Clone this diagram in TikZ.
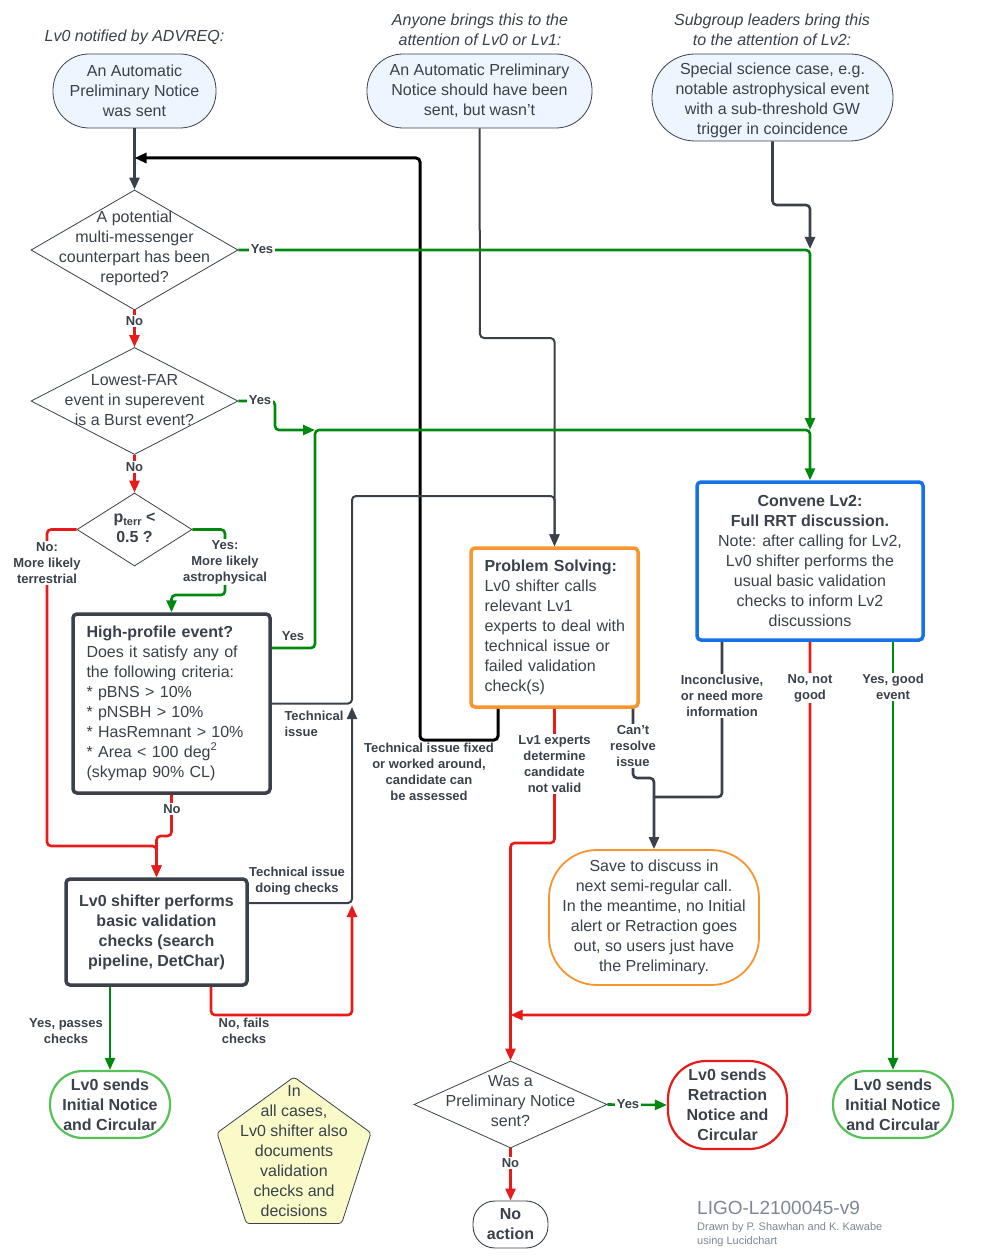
\documentclass[tikz,border=0pt]{standalone}
\usepackage{fontspec}
\setmainfont{Liberation Sans}
\usetikzlibrary{arrows.meta,shapes.geometric,calc}
\definecolor{tg}{HTML}{3A414A}
\definecolor{lblue}{HTML}{EDF5FF}
\definecolor{lgreen}{HTML}{00890F}
\definecolor{bgreen}{HTML}{55C157}
\definecolor{lred}{HTML}{E81B1B}
\definecolor{orng}{HTML}{F8952F}
\definecolor{blu}{HTML}{1572E8}
\definecolor{yel}{HTML}{FAFAC9}
\definecolor{ligo}{HTML}{7D8894}
\begin{document}
\begin{tikzpicture}[x=1pt,y=-1pt,
  txt/.style={font=\fontsize{16}{20}\selectfont, text=tg, align=center},
  btxt/.style={font=\bfseries\fontsize{16}{20}\selectfont, text=tg, align=center},
  hdr/.style={font=\itshape\fontsize{16}{20}\selectfont, text=tg, align=center},
  lbl/.style={font=\bfseries\fontsize{13}{16}\selectfont, text=tg, align=center, fill=white, inner sep=1.5pt},
  startbox/.style={txt, draw=tg, line width=0.8pt, fill=lblue, inner sep=0pt},
  dia/.style={diamond, draw=tg, line width=0.8pt, inner sep=0pt},
  conn/.style={line width=2.6pt, rounded corners=4pt},
  gry/.style={conn, draw=tg},
  grn/.style={conn, draw=lgreen},
  rd/.style={conn, draw=lred},
  blk/.style={conn, draw=black, line width=3pt},
  tip/.style={-{Triangle[length=12pt,width=10pt]}}
]
\useasboundingbox (0,0) rectangle (1006,1257);
\fill[white] (0,0) rectangle (1006,1257);

% headers
\node[hdr] (h1) at (134.5,37) {Lv0 notified by ADVREQ:};
\node[hdr] (h2) at (480,30) {Anyone brings this to the\\attention of Lv0 or Lv1:};
\node[hdr] (h3) at (772,30) {Subgroup leaders bring this\\to the attention of Lv2:};

% start nodes
\node[startbox, minimum width=163pt, minimum height=74pt, rounded corners=36pt] (s1) at (134.5,91) {An Automatic\\Preliminary Notice\\was sent};
\node[startbox, minimum width=225pt, minimum height=74pt, rounded corners=36pt] (s2) at (479.5,91) {An Automatic Preliminary\\Notice should have been\\sent, but wasn't};
\node[startbox, minimum width=241pt, minimum height=87pt, rounded corners=43pt] (s3) at (772.5,97.5) {};
\node[txt] at (772.5,100.5) {Special science case, e.g.\\notable astrophysical event\\with a sub-threshold GW\\trigger in coincidence};

% diamonds
\node[dia, minimum width=207pt, minimum height=120pt] (d1) at (134.5,250) {};
\node[txt] at (134.5,248) {A potential\\multi-messenger\\counterpart has been\\reported?};
\node[dia, minimum width=207pt, minimum height=107pt] (d2) at (134.5,401) {};
\node[txt] at (134.5,400) {Lowest-FAR\\event in superevent\\is a Burst event?};
\node[dia, minimum width=115pt, minimum height=73pt] (d3) at (134.5,529.5) {};
\node[btxt] at (134.5,528) {p\raisebox{-3pt}{\fontsize{11}{11}\selectfont terr} <\\0.5 ?};

% high-profile
\node[draw=tg, line width=3.5pt, rounded corners=4pt, minimum width=197pt, minimum height=179pt, inner sep=0pt] (hp) at (171.5,703.5) {};
\node[txt, text width=176pt, align=left, anchor=north west] at (83,622) {\textbf{High-profile event?}\\Does it satisfy any of\\the following criteria:\\\mbox{*} pBNS > 10\%\\\mbox{*} pNSBH > 10\%\\\mbox{*} HasRemnant > 10\%\\\mbox{*} Area < 100 deg\textsuperscript{2}\\(skymap 90\% CL)};

% Lv0 shifter box
\node[btxt, draw=tg, line width=3.5pt, rounded corners=4pt, minimum width=181pt, minimum height=106pt, inner sep=0pt] (lv) at (156.5,932) {Lv0 shifter performs\\basic validation\\checks (search\\pipeline, DetChar)};

% problem solving
\node[draw=orng, line width=3.5pt, rounded corners=4pt, minimum width=167pt, minimum height=159pt, inner sep=0pt] (ps) at (554.5,627.5) {};
\node[txt, text width=150pt, align=left, anchor=north west] at (481,556) {\textbf{Problem Solving:}\\Lv0 shifter calls\\relevant Lv1\\experts to deal with\\technical issue or\\failed validation\\check(s)};

% convene
\node[txt, draw=blu, line width=3.5pt, rounded corners=4pt, minimum width=226pt, minimum height=158pt, inner sep=0pt] (cv) at (810,561) {\textbf{Convene Lv2:}\\\textbf{Full RRT discussion.}\\Note: after calling for Lv2,\\Lv0 shifter performs the\\usual basic validation\\checks to inform Lv2\\discussions};

% save
\node[txt, draw=orng, line width=1.8pt, rounded corners=48pt, minimum width=210pt, minimum height=135pt, inner sep=0pt] (sv) at (654,917.5) {Save to discuss in\\next semi-regular call.\\In the meantime, no Initial\\alert or Retraction goes\\out, so users just have\\the Preliminary.};

% was a preliminary notice sent
\node[dia, minimum width=193pt, minimum height=87pt] (wd) at (510.5,1104.5) {};
\node[txt] at (510.5,1101) {Was a\\Preliminary Notice\\sent?};

% terminals
\node[btxt, draw=lred, line width=2.2pt, rounded corners=38pt, minimum width=119pt, minimum height=88pt, inner sep=0pt] (rt) at (727.5,1105) {Lv0 sends\\Retraction\\Notice and\\Circular};
\node[btxt, draw=bgreen, line width=2.2pt, rounded corners=33pt, minimum width=120pt, minimum height=67pt, inner sep=0pt] (in1) at (110,1104.5) {Lv0 sends\\Initial Notice\\and Circular};
\node[btxt, draw=bgreen, line width=2.2pt, rounded corners=33pt, minimum width=120pt, minimum height=67pt, inner sep=0pt] (in2) at (893,1104.5) {Lv0 sends\\Initial Notice\\and Circular};
\node[btxt, draw=tg, line width=0.9pt, rounded corners=22pt, minimum width=75pt, minimum height=47pt, inner sep=0pt] (na) at (510.5,1224.5) {No\\action};

% pentagon note
\node[regular polygon, regular polygon sides=5, minimum size=162pt, draw=tg, fill=yel, line width=0.8pt, inner sep=0pt, rounded corners=3pt] (pent) at (294,1158) {};
\node[txt] at (294,1151) {In\\all cases,\\Lv0 shifter also\\documents\\validation\\checks and\\decisions};

% footer
\node[font=\fontsize{19}{22}\selectfont, text=ligo, anchor=west, inner sep=0pt] (ft1) at (697,1208) {LIGO-L2100045-v9};
\node[font=\fontsize{11}{14}\selectfont, text=ligo, anchor=north west, align=left, inner sep=0pt] (ft2) at (697,1222) {Drawn by P. Shawhan and K. Kawabe\\using Lucidchart};

% coordinates
\coordinate (j1) at (134.5,158);
\coordinate (j2) at (510.5,1015);

% gray / black connectors
\draw[gry, tip] (s1.south) -- (d1.north);
\draw[blk, tip] ($(ps.south)+(-56.5,0)$) -- (498,740) -- (420,740) -- (420,158) -- (j1);
\draw[gry, line width=2pt, tip] (s2.south) -- (480,338) -- (554.5,338) -- (ps.north);
\draw[gry, line width=2pt, tip] (hp.east) -| (352,496) -- (554.5,496) -- (ps.north);
\draw[gry, line width=2pt, tip] ([yshift=29pt]lv.east) -| (352,707);
\draw[gry, tip] ($(ps.south)+(78.5,0)$) |- (654,778) -- (sv.north);
\draw[gry] ($(cv.south)+(-88,0)$) |- (654,797);

% green connectors
\draw[grn, tip] (d1.east) -- (810,250) -- (810,430);
\draw[grn, tip] (d2.east) -- (275,401) -- (275,430) -- (315,430);
\draw[grn, tip] ([yshift=55.5pt]hp.east) -| (315,430) -- (810,430) -- (cv.north);
\draw[gry, tip] (s3.south) -- (772.5,205) -- (810,205) -- (810,249);
\draw[grn, tip] (d3.east) -| (225,595) -| (hp.north);
\draw[grn, line width=2.2pt, tip] (in1.north |- lv.south) -- (in1.north);
\draw[grn, tip] (in2.north |- cv.south) -- (in2.north);
\draw[grn, tip] (wd.east) -- (rt.west);

% red connectors
\draw[rd, tip] (d1.south) -- (d2.north);
\draw[rd, tip] (d2.south) -- (d3.north);
\draw[rd, tip] (d3.west) -| (47,846) -| (lv.north);
\draw[rd, tip] (hp.south) |- (156.5,836) -- (lv.north);
\draw[rd, tip] ($(lv.south)+(54.5,0)$) |- (352,1015) -- (352,905);
\draw[rd, tip] (ps.south) |- (510.5,843) -- (wd.north);
\draw[rd, tip] (cv.south) |- (j2);
\draw[rd, tip] (wd.south) -- (na.north);

% labels
\node[lbl] at (262,249) {Yes};
\node[lbl] at (134.5,321) {No};
\node[lbl] at (260,400) {Yes};
\node[lbl] at (134.5,467) {No};
\node[lbl] at (47,563) {No:\\More likely\\terrestrial};
\node[lbl] at (225,562) {Yes:\\More likely\\astrophysical};
\node[lbl, fill=none] at (293,636) {Yes};
\node[lbl, fill=none, align=left] at (314,724) {Technical\\issue};
\node[lbl] at (172,809) {No};
\node[lbl, fill=none] at (297,881) {Technical issue\\doing checks};
\node[lbl, fill=none] at (66,1031) {Yes, passes\\checks};
\node[lbl, fill=none] at (244,1031) {No, fails\\checks};
\node[lbl, fill=none] at (429,772) {Technical issue fixed\\or worked around,\\candidate can\\be assessed};
\node[lbl] at (554.5,764) {Lv1 experts\\determine\\candidate\\not valid};
\node[lbl] at (633,746) {Can't\\resolve\\issue};
\node[lbl] at (722,696) {Inconclusive,\\or need more\\information};
\node[lbl] at (810,688) {No, not\\good};
\node[lbl] at (893,687) {Yes, good\\event};
\node[lbl] at (628,1104) {Yes};
\node[lbl] at (510.5,1163) {No};
\end{tikzpicture}
\end{document}
